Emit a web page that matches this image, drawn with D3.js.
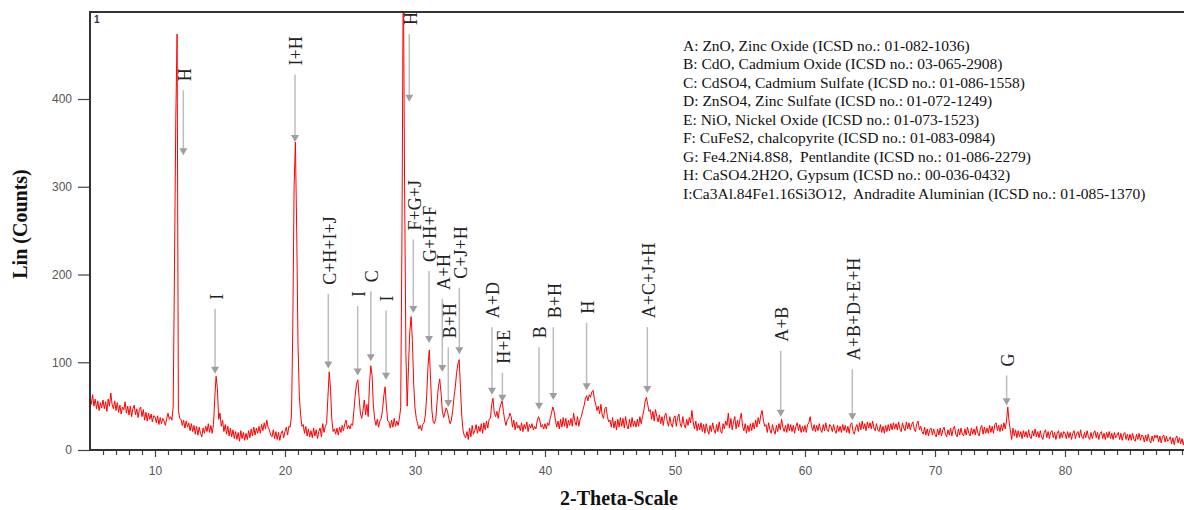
<!DOCTYPE html>
<html>
<head>
<meta charset="utf-8">
<script src="https://cdn.jsdelivr.net/npm/d3@7"></script>
<style>
  body { margin: 0; background: #fff; }
  svg { display: block; }
  .keyline { white-space: pre; }
</style>
</head>
<body>
<svg id="chart" width="1184" height="510"></svg>
<script>
// ---- XRD scan: 2-theta grid and measured intensity (counts) ----
const scanStart = 5.0;   // first 2-theta of the scan, degrees
const scanStep = 0.1;    // step between readings, degrees
const counts = [
  60, 52, 63, 50, 58, 47, 56, 45, 54, 48,
  57, 47, 55, 44, 58, 50, 65, 52, 47, 56,
  45, 54, 43, 51, 41, 49, 46, 55, 42, 50,
  40, 50, 38, 47, 51, 40, 47, 37, 46, 49,
  38, 46, 34, 43, 33, 42, 35, 41, 32, 39,
  38, 31, 39, 29, 37, 30, 36, 33, 28, 36,
  42, 35, 38, 34, 50, 210, 378, 474, 45, 36,
  35, 28, 34, 25, 33, 26, 31, 22, 30, 21,
  28, 18, 27, 17, 26, 19, 15, 25, 19, 27,
  21, 30, 20, 28, 19, 29, 60, 84, 70, 35,
  42, 27, 34, 21, 29, 18, 27, 16, 25, 15,
  23, 13, 21, 12, 20, 10, 22, 13, 20, 11,
  19, 12, 22, 14, 24, 16, 26, 17, 25, 19,
  27, 19, 29, 22, 31, 24, 34, 26, 23, 17,
  15, 23, 13, 21, 12, 20, 11, 19, 22, 14,
  21, 26, 17, 27, 26, 40, 140, 300, 351, 250,
  120, 62, 40, 27, 29, 19, 27, 16, 24, 15,
  22, 14, 25, 16, 23, 13, 21, 25, 15, 30,
  20, 27, 30, 60, 89, 70, 35, 21, 24, 18,
  25, 17, 26, 20, 28, 22, 30, 34, 24, 28,
  24, 30, 28, 45, 62, 75, 80, 60, 42, 36,
  45, 57, 40, 52, 38, 75, 96, 85, 50, 35,
  28, 35, 26, 33, 36, 45, 62, 72, 50, 33,
  32, 25, 34, 26, 36, 27, 33, 28, 36, 48,
  250, 560, 300, 110, 50, 95, 135, 152, 125, 75,
  48, 36, 30, 24, 28, 22, 29, 31, 40, 62,
  95, 114, 80, 45, 32, 30, 36, 55, 72, 81,
  66, 45, 37, 42, 48, 44, 36, 30, 34, 45,
  60, 72, 88, 98, 103, 70, 38, 22, 16, 14,
  21, 12, 25, 15, 28, 18, 22, 29, 19, 27,
  21, 30, 19, 31, 23, 33, 25, 35, 36, 52,
  59, 42, 38, 44, 36, 46, 52, 56, 44, 34,
  28, 35, 36, 42, 38, 26, 34, 23, 32, 25,
  28, 22, 31, 21, 29, 24, 32, 21, 29, 25,
  30, 23, 27, 24, 33, 38, 34, 26, 29, 24,
  30, 24, 31, 28, 36, 42, 49, 44, 34, 26,
  33, 24, 35, 26, 37, 27, 36, 25, 34, 28,
  36, 27, 42, 32, 28, 38, 27, 35, 38, 45,
  50, 58, 62, 56, 63, 60, 66, 68, 58, 52,
  45, 50, 41, 52, 40, 36, 47, 49, 38, 32,
  34, 26, 37, 25, 33, 23, 35, 26, 37, 27,
  36, 25, 38, 28, 24, 35, 26, 37, 27, 33,
  26, 35, 27, 38, 30, 38, 45, 55, 60, 52,
  44, 46, 35, 44, 33, 46, 38, 32, 40, 30,
  38, 28, 39, 42, 33, 27, 38, 30, 26, 36,
  39, 27, 37, 41, 30, 26, 38, 29, 25, 35,
  28, 37, 31, 45, 32, 24, 33, 22, 30, 23,
  31, 21, 29, 19, 30, 23, 18, 28, 21, 31,
  23, 19, 29, 21, 32, 22, 19, 30, 24, 33,
  28, 42, 25, 36, 23, 32, 38, 24, 34, 26,
  35, 42, 27, 22, 30, 19, 28, 21, 30, 22,
  31, 24, 34, 26, 37, 30, 40, 45, 34, 27,
  29, 20, 31, 23, 19, 29, 22, 18, 28, 21,
  30, 23, 35, 26, 21, 28, 20, 30, 22, 29,
  21, 28, 19, 27, 31, 22, 29, 20, 27, 21,
  28, 20, 29, 31, 38, 27, 22, 29, 21, 28,
  22, 30, 23, 20, 29, 22, 31, 23, 21, 29,
  27, 21, 29, 22, 19, 28, 21, 27, 20, 29,
  22, 28, 20, 27, 19, 29, 31, 21, 18, 26,
  29, 21, 31, 23, 33, 24, 30, 22, 32, 25,
  31, 24, 33, 25, 22, 30, 23, 21, 29, 20,
  27, 19, 28, 21, 29, 22, 30, 23, 31, 24,
  30, 23, 32, 24, 21, 31, 25, 22, 32, 24,
  31, 23, 29, 32, 24, 21, 30, 33, 23, 27,
  21, 18, 26, 17, 24, 16, 23, 25, 17, 24,
  18, 15, 24, 17, 25, 16, 23, 26, 18, 15,
  23, 17, 25, 16, 24, 27, 18, 15, 24, 17,
  25, 18, 16, 24, 17, 26, 19, 16, 25, 18,
  24, 17, 27, 19, 16, 25, 28, 18, 26, 19,
  25, 19, 28, 20, 27, 19, 29, 31, 22, 28,
  21, 29, 22, 31, 24, 33, 49, 32, 22, 12,
  25, 16, 23, 14, 22, 15, 21, 13, 22, 15,
  21, 14, 23, 15, 13, 22, 16, 24, 15, 21,
  14, 22, 15, 12, 20, 23, 14, 21, 13, 20,
  22, 14, 20, 12, 19, 22, 13, 20, 14, 21,
  19, 13, 21, 14, 20, 12, 19, 22, 13, 19,
  21, 14, 23, 15, 13, 20, 14, 22, 15, 12,
  20, 13, 19, 22, 14, 20, 12, 19, 21, 13,
  19, 12, 20, 14, 21, 13, 19, 12, 20, 14,
  17, 20, 12, 19, 11, 18, 20, 12, 18, 11,
  18, 11, 19, 12, 10, 18, 12, 19, 11, 17,
  16, 9, 17, 10, 18, 11, 8, 16, 10, 17,
  14, 17, 9, 16, 8, 15, 17, 9, 16, 10,
  12, 15, 7, 14, 6, 13, 16, 8, 14, 7,
  13, 6, 12
];

// ---- axis ticks ----
const countTicks = [0, 100, 200, 300, 400];
const thetaMajor = [10, 20, 30, 40, 50, 60, 70, 80];

// ---- phase identification marks ----
const peakLabels = ["H", "I", "I+H", "C+H+I+J", "I", "C", "I", "H", "F+G+J", "G+H+F", "A+H",
  "B+H", "C+J+H", "A+D", "H+E", "B", "B+H", "H", "A+C+J+H", "A+B", "A+B+D+E+H", "G"];
const peakTheta = [12.18, 14.62, 20.77, 23.33, 25.59, 26.6, 27.77, 29.56, 29.87, 31.08, 32.1,
  32.56, 33.41, 35.92, 36.72, 39.54, 40.64, 43.2, 47.87, 58.13, 63.64, 75.51];
const arrowFromCounts = [410, 161, 428, 178, 164, 181, 159, 474, 240, 204, 172,
  117, 185, 140, 88, 117, 140, 145, 140, 113, 92, 85];
const arrowToCounts = [336, 87, 351, 93, 85, 101, 80, 397, 156, 122, 89,
  49, 109, 63, 55, 46, 57, 68, 65, 38, 34, 51];

// ---- phase key ----
const phaseKey = [
  "A: ZnO, Zinc Oxide (ICSD no.: 01-082-1036)",
  "B: CdO, Cadmium Oxide (ICSD no.: 03-065-2908)",
  "C: CdSO4, Cadmium Sulfate (ICSD no.: 01-086-1558)",
  "D: ZnSO4, Zinc Sulfate (ICSD no.: 01-072-1249)",
  "E: NiO, Nickel Oxide (ICSD no.: 01-073-1523)",
  "F: CuFeS2, chalcopyrite (ICSD no.: 01-083-0984)",
  "G: Fe4.2Ni4.8S8,  Pentlandite (ICSD no.: 01-086-2279)",
  "H: CaSO4.2H2O, Gypsum (ICSD no.: 00-036-0432)",
  "I:Ca3Al.84Fe1.16Si3O12,  Andradite Aluminian (ICSD no.: 01-085-1370)"
];

// ---- layout ----
const plotLeft = 90, plotRight = 1184, plotTop = 12, plotBottom = 450;
const serif = "'Liberation Serif', 'Times New Roman', serif";
const sans = "'Liberation Sans', Arial, sans-serif";

const svg = d3.select("#chart");

const x = d3.scaleLinear().domain([5, 89.154]).range([plotLeft, plotRight]);
const y = d3.scaleLinear().domain([0, 499.15]).range([plotBottom, plotTop]);

svg.append("defs").append("clipPath").attr("id", "plotClip")
  .append("rect")
  .attr("x", plotLeft).attr("y", plotTop)
  .attr("width", plotRight - plotLeft).attr("height", plotBottom - plotTop);

// diffraction trace
const scan = counts.map((c, i) => ({ t: scanStart + i * scanStep, c }));
svg.append("path")
  .datum(scan)
  .attr("clip-path", "url(#plotClip)")
  .attr("fill", "none")
  .attr("stroke", "#ff0000")
  .attr("stroke-width", 1)
  .attr("stroke-linejoin", "round")
  .attr("d", d3.line().x(d => x(d.t)).y(d => y(d.c)));

// frame: top border, left and bottom axes
svg.append("line")
  .attr("x1", plotLeft).attr("x2", plotRight)
  .attr("y1", plotTop).attr("y2", plotTop)
  .attr("stroke", "#333").attr("stroke-width", 2);

const yAxis = svg.append("g")
  .attr("transform", `translate(${plotLeft},0)`)
  .call(d3.axisLeft(y).tickValues(countTicks).tickSize(12).tickPadding(6).tickSizeOuter(0));
yAxis.select(".domain").remove();
yAxis.selectAll(".tick line").attr("stroke", "#444").attr("stroke-width", 1.2);
yAxis.selectAll(".tick text")
  .attr("font-family", sans).attr("font-size", 12).attr("fill", "#555");

const xAxis = svg.append("g")
  .attr("transform", `translate(0,${plotBottom})`)
  .call(d3.axisBottom(x).tickValues(d3.range(6, 90)).tickSize(5).tickSizeOuter(0)
    .tickFormat(d => thetaMajor.includes(d) ? d : ""));
xAxis.select(".domain").remove();
xAxis.selectAll(".tick line")
  .attr("stroke", "#444").attr("stroke-width", 1.2)
  .attr("y2", d => thetaMajor.includes(d) ? 7 : 5);
xAxis.selectAll(".tick text")
  .attr("font-family", sans).attr("font-size", 12).attr("fill", "#555")
  .attr("y", 25).attr("dy", null);

svg.append("line")
  .attr("x1", plotLeft).attr("x2", plotLeft)
  .attr("y1", plotTop - 1).attr("y2", plotBottom + 1)
  .attr("stroke", "#333").attr("stroke-width", 2);
svg.append("line")
  .attr("x1", plotLeft - 1).attr("x2", plotRight)
  .attr("y1", plotBottom).attr("y2", plotBottom)
  .attr("stroke", "#333").attr("stroke-width", 2);

// scan number in the corner
svg.append("text")
  .attr("x", 94).attr("y", 23)
  .attr("font-family", sans).attr("font-size", 10).attr("font-weight", "bold")
  .attr("fill", "#333").text("1");

// axis titles
svg.append("text")
  .attr("transform", "translate(27,224) rotate(-90)")
  .attr("text-anchor", "middle")
  .attr("font-family", serif).attr("font-size", 20).attr("font-weight", "bold")
  .attr("fill", "#111").text("Lin (Counts)");

svg.append("text")
  .attr("x", 619).attr("y", 505)
  .attr("text-anchor", "middle")
  .attr("font-family", serif).attr("font-size", 20).attr("font-weight", "bold")
  .attr("fill", "#111").text("2-Theta-Scale");

// phase marks: rotated label, grey shaft, arrowhead
const marks = svg.append("g");
peakLabels.forEach((label, i) => {
  const px = x(peakTheta[i]);
  const y0 = y(arrowFromCounts[i]);
  const y1 = y(arrowToCounts[i]);
  marks.append("line")
    .attr("x1", px).attr("x2", px)
    .attr("y1", y0).attr("y2", y1 - 6)
    .attr("stroke", "#bdbdbd").attr("stroke-width", 1.5);
  marks.append("path")
    .attr("d", `M${px - 4},${y1 - 7}L${px + 4},${y1 - 7}L${px},${y1}Z`)
    .attr("fill", "#9e9e9e");
  marks.append("text")
    .attr("transform", `translate(${px + 1.5},${y0 - 9}) rotate(-90)`)
    .attr("dy", "0.33em")
    .attr("font-family", serif).attr("font-size", 18)
    .attr("fill", "#222")
    .text(label);
});

// phase key
svg.append("g")
  .selectAll("text")
  .data(phaseKey)
  .join("text")
  .attr("class", "keyline")
  .attr("x", 683)
  .attr("y", (d, i) => 50.5 + i * 18.5)
  .attr("font-family", serif).attr("font-size", 15.5)
  .attr("fill", "#111")
  .text(d => d);
</script>
</body>
</html>
